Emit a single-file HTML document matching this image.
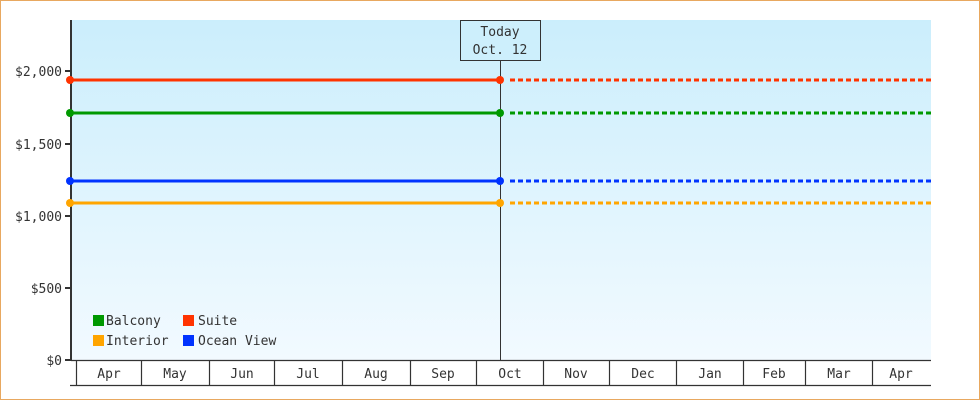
<!DOCTYPE html>
<html><head><style>
html,body{margin:0;padding:0;background:#fff}
svg{display:block}
text{font-family:"DejaVu Sans Mono","Liberation Mono",monospace;font-size:13px;fill:#333}
</style></head><body>
<svg width="980" height="400" xmlns="http://www.w3.org/2000/svg">
<defs><linearGradient id="g" x1="0" y1="0" x2="0" y2="1"><stop offset="0" stop-color="#cbeefc"/><stop offset="1" stop-color="#f2faff"/></linearGradient></defs>
<rect x="0.5" y="0.5" width="979" height="399" fill="#fff" stroke="#e8a860" stroke-width="1"/>
<rect x="71" y="20" width="860" height="340" fill="url(#g)"/>
<!-- y axis -->
<line x1="71" y1="20" x2="71" y2="361" stroke="#333" stroke-width="2"/>
<g stroke="#333" stroke-width="2">
<line x1="65" y1="71" x2="71" y2="71"/><line x1="65" y1="144" x2="71" y2="144"/><line x1="65" y1="216" x2="71" y2="216"/><line x1="65" y1="288" x2="71" y2="288"/><line x1="65" y1="360" x2="71" y2="360"/>
</g>
<g text-anchor="end">
<text x="62" y="76">$2,000</text><text x="62" y="149">$1,500</text><text x="62" y="221">$1,000</text><text x="62" y="293">$500</text><text x="62" y="365">$0</text>
</g>
<!-- x axis -->
<g stroke="#333" stroke-width="1.2">
<line x1="71" y1="360.5" x2="931" y2="360.5"/><line x1="70" y1="385.5" x2="931" y2="385.5"/>
<line x1="76.5" y1="360" x2="76.5" y2="385"/><line x1="141.5" y1="360" x2="141.5" y2="385"/><line x1="209.5" y1="360" x2="209.5" y2="385"/><line x1="274.5" y1="360" x2="274.5" y2="385"/><line x1="342.5" y1="360" x2="342.5" y2="385"/><line x1="410.5" y1="360" x2="410.5" y2="385"/><line x1="476.5" y1="360" x2="476.5" y2="385"/><line x1="543.5" y1="360" x2="543.5" y2="385"/><line x1="609.5" y1="360" x2="609.5" y2="385"/><line x1="676.5" y1="360" x2="676.5" y2="385"/><line x1="743.5" y1="360" x2="743.5" y2="385"/><line x1="805.5" y1="360" x2="805.5" y2="385"/><line x1="872.5" y1="360" x2="872.5" y2="385"/>
</g>
<g text-anchor="middle">
<text x="109" y="378">Apr</text><text x="175" y="378">May</text><text x="242" y="378">Jun</text><text x="308" y="378">Jul</text><text x="376" y="378">Aug</text><text x="443" y="378">Sep</text><text x="510" y="378">Oct</text><text x="576" y="378">Nov</text><text x="643" y="378">Dec</text><text x="710" y="378">Jan</text><text x="774" y="378">Feb</text><text x="839" y="378">Mar</text><text x="901" y="378">Apr</text>
</g>
<!-- today -->
<line x1="500.5" y1="60" x2="500.5" y2="360" stroke="#333" stroke-width="1"/>
<rect x="460.5" y="20.5" width="80" height="40" fill="#cdeffc" stroke="#333" stroke-width="1"/>
<text x="500" y="36" text-anchor="middle">Today</text>
<text x="500" y="54" text-anchor="middle">Oct. 12</text>
<!-- series -->
<g stroke-width="3">
<line x1="71" y1="80" x2="500" y2="80" stroke="#ff3300"/>
<line x1="510" y1="80" x2="931" y2="80" stroke="#ff3300" stroke-dasharray="5,3"/>
<line x1="71" y1="113" x2="500" y2="113" stroke="#009900"/>
<line x1="510" y1="113" x2="931" y2="113" stroke="#009900" stroke-dasharray="5,3"/>
<line x1="71" y1="181" x2="500" y2="181" stroke="#0033ff"/>
<line x1="510" y1="181" x2="931" y2="181" stroke="#0033ff" stroke-dasharray="5,3"/>
<line x1="71" y1="203" x2="500" y2="203" stroke="#ffa500"/>
<line x1="510" y1="203" x2="931" y2="203" stroke="#ffa500" stroke-dasharray="5,3"/>
</g>
<g>
<circle cx="70" cy="80" r="4" fill="#ff3300"/><circle cx="500" cy="80" r="4" fill="#ff3300"/>
<circle cx="70" cy="113" r="4" fill="#009900"/><circle cx="500" cy="113" r="4" fill="#009900"/>
<circle cx="70" cy="181" r="4" fill="#0033ff"/><circle cx="500" cy="181" r="4" fill="#0033ff"/>
<circle cx="70" cy="203" r="4" fill="#ffa500"/><circle cx="500" cy="203" r="4" fill="#ffa500"/>
</g>
<!-- legend -->
<rect x="93" y="315" width="11" height="11" fill="#009900"/><text x="106" y="325">Balcony</text>
<rect x="183" y="315" width="11" height="11" fill="#ff3300"/><text x="198" y="325">Suite</text>
<rect x="93" y="335" width="11" height="11" fill="#ffa500"/><text x="106" y="345">Interior</text>
<rect x="183" y="335" width="11" height="11" fill="#0033ff"/><text x="198" y="345">Ocean View</text>
</svg>
</body></html>
